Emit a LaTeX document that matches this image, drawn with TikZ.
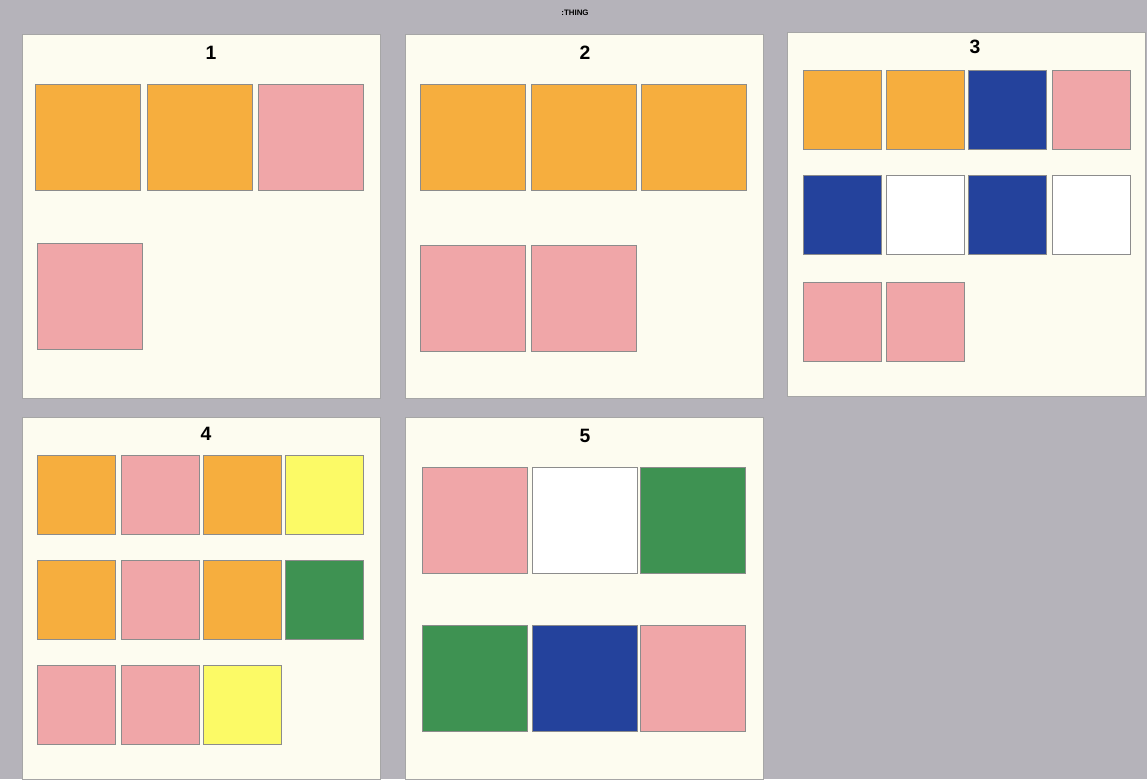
\documentclass[tikz,border=0pt]{standalone}
\usepackage{fontspec}
\setmainfont{Liberation Sans}
\definecolor{bggray}{RGB}{181,179,186}
\definecolor{panelcream}{RGB}{253,252,240}
\definecolor{noteorange}{RGB}{246,174,62}
\definecolor{notepink}{RGB}{240,166,168}
\definecolor{noteblue}{RGB}{36,66,156}
\definecolor{notegreen}{RGB}{62,146,82}
\definecolor{noteyellow}{RGB}{252,250,102}
\begin{document}
\begin{tikzpicture}[
    x=0.02cm, y=-0.02cm,
    panel/.style={draw=black!35, fill=panelcream, anchor=north west, inner sep=0pt, outer sep=0pt, minimum width=7.16cm, minimum height=7.28cm},
    num/.style={font=\fontsize{11}{13}\selectfont\bfseries, anchor=north},
    card/.style={draw=black!45, very thin, anchor=north west, inner sep=0pt, outer sep=0pt},
    big/.style={card, minimum width=2.1cm, minimum height=2.12cm},
    small/.style={card, minimum width=1.56cm, minimum height=1.58cm},
  ]
    % Hintergrund
    \useasboundingbox (0,0) rectangle (1147,779);
    \fill[bggray] (0,0) rectangle (1147,779);
    \node[font=\fontsize{4.5}{5}\selectfont\bfseries] (title) at (575,13) {:THING};

    % Felder
    \node[panel] (f1) at (22,34) {};
    \node[panel] (f2) at (405,34) {};
    \node[panel] (f3) at (787,32) {};
    \node[panel, minimum height=7.24cm] (f4) at (22,417) {};
    \node[panel, minimum height=7.24cm] (f5) at (405,417) {};

    \node[num] (n1) at (211,40) {1};
    \node[num] (n2) at (585,40) {2};
    \node[num] (n3) at (975,34) {3};
    \node[num] (n4) at (206,421) {4};
    \node[num] (n5) at (585,423) {5};

    % Feld 1
    \node[big, fill=noteorange] (a1) at (35,84) {};
    \node[big, fill=noteorange] (a2) at (147,84) {};
    \node[big, fill=notepink] (a3) at (258,84) {};
    \node[big, fill=notepink] (a4) at (37,243) {};

    % Feld 2
    \node[big, fill=noteorange] (b1) at (420,84) {};
    \node[big, fill=noteorange] (b2) at (531,84) {};
    \node[big, fill=noteorange] (b3) at (641,84) {};
    \node[big, fill=notepink] (b4) at (420,245) {};
    \node[big, fill=notepink] (b5) at (531,245) {};

    % Feld 3
    \node[small, fill=noteorange] (c1) at (803,70) {};
    \node[small, fill=noteorange] (c2) at (886,70) {};
    \node[small, fill=noteblue] (c3) at (968,70) {};
    \node[small, fill=notepink] (c4) at (1052,70) {};
    \node[small, fill=noteblue] (c5) at (803,175) {};
    \node[small, fill=white] (c6) at (886,175) {};
    \node[small, fill=noteblue] (c7) at (968,175) {};
    \node[small, fill=white] (c8) at (1052,175) {};
    \node[small, fill=notepink] (c9) at (803,282) {};
    \node[small, fill=notepink] (c10) at (886,282) {};

    % Feld 4
    \node[small, fill=noteorange] (d1) at (37,455) {};
    \node[small, fill=notepink] (d2) at (121,455) {};
    \node[small, fill=noteorange] (d3) at (203,455) {};
    \node[small, fill=noteyellow] (d4) at (285,455) {};
    \node[small, fill=noteorange] (d5) at (37,560) {};
    \node[small, fill=notepink] (d6) at (121,560) {};
    \node[small, fill=noteorange] (d7) at (203,560) {};
    \node[small, fill=notegreen] (d8) at (285,560) {};
    \node[small, fill=notepink] (d9) at (37,665) {};
    \node[small, fill=notepink] (d10) at (121,665) {};
    \node[small, fill=noteyellow] (d11) at (203,665) {};

    % Feld 5
    \node[big, fill=notepink] (e1) at (422,467) {};
    \node[big, fill=white] (e2) at (532,467) {};
    \node[big, fill=notegreen] (e3) at (640,467) {};
    \node[big, fill=notegreen] (e4) at (422,625) {};
    \node[big, fill=noteblue] (e5) at (532,625) {};
    \node[big, fill=notepink] (e6) at (640,625) {};
  \end{tikzpicture}
\end{document}
